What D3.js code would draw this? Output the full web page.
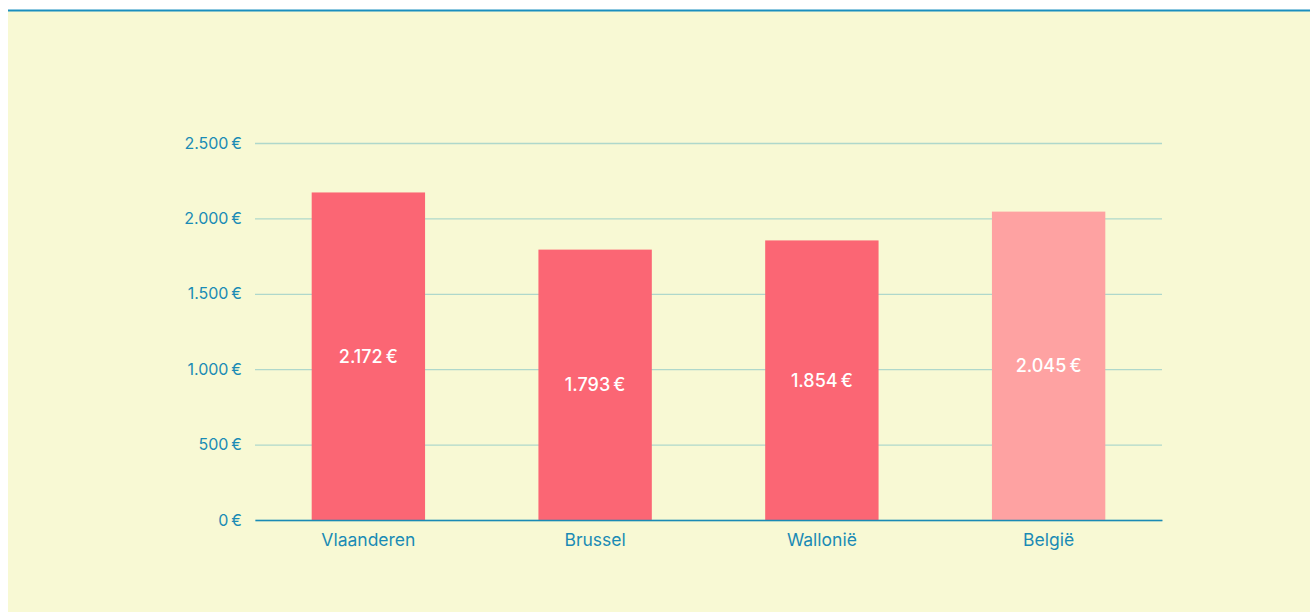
<!DOCTYPE html>
<html>
<head>
<meta charset="utf-8">
<script src="https://cdn.jsdelivr.net/npm/d3@7"></script>
<style>
  body { margin: 0; background: #fff; }
  svg { display: block; }
  svg text { font-family: Inter, "Open Sans", sans-serif; }
</style>
</head>
<body>
<svg id="chart" width="1310" height="612"></svg>
<script>
// data
var regions = ["Vlaanderen", "Brussel", "Wallonië", "België"];
var amounts = [2172, 1793, 1854, 2045];
var barColors = ["#fb6674", "#fb6674", "#fb6674", "#fea2a2"];
var yTicks = [0, 500, 1000, 1500, 2000, 2500];

var svg = d3.select("#chart");

// background panel + top rule
svg.append("rect").attr("x", 8).attr("y", 10).attr("width", 1302).attr("height", 602).attr("fill", "#f8f9d4");
svg.append("line").attr("x1", 8).attr("x2", 1310).attr("y1", 10.5).attr("y2", 10.5)
  .attr("stroke", "#1a8fbf").attr("stroke-width", 2);

var margin = { top: 143, left: 255, right: 148, bottom: 92 },
  width = 1310 - margin.left - margin.right,
  height = 612 - margin.top - margin.bottom;

var locale = d3.formatLocale({ decimal: ",", thousands: ".", grouping: [3], currency: ["", "\u2009€"] });
var fmt = locale.format("$,.0f");

var x = d3.scaleBand().domain(regions).range([0, width]).paddingInner(0.5).paddingOuter(0.25);
var y = d3.scaleLinear().domain([0, 2500]).range([height, 0]);

var g = svg.append("g").attr("transform", "translate(" + margin.left + "," + margin.top + ")");

// gridlines and y labels
var yAxis = g.append("g")
  .call(d3.axisLeft(y).tickValues(yTicks).tickFormat(fmt).tickSize(-width).tickPadding(13));
yAxis.select(".domain").remove();
yAxis.selectAll(".tick line").attr("stroke", "#afd8cb").attr("stroke-width", 1.3);
yAxis.selectAll(".tick text").attr("fill", "#1a8bb5").style("font-size", "16px");

// bars
g.selectAll(".bar")
  .data(amounts)
  .enter().append("rect")
  .attr("x", function (d, i) { return x(regions[i]); })
  .attr("y", function (d) { return y(d); })
  .attr("width", x.bandwidth())
  .attr("height", function (d) { return height - y(d); })
  .attr("fill", function (d, i) { return barColors[i]; });

// value labels
g.selectAll(".val")
  .data(amounts)
  .enter().append("text")
  .attr("x", function (d, i) { return x(regions[i]) + x.bandwidth() / 2; })
  .attr("y", function (d) { return (y(d) + height) / 2; })
  .attr("dy", "0.35em")
  .attr("text-anchor", "middle")
  .attr("fill", "#fff")
  .style("font-size", "18px")
  .style("font-weight", 500)
  .text(function (d) { return fmt(d); });

// x axis
var xAxis = g.append("g")
  .attr("transform", "translate(0," + height + ")")
  .call(d3.axisBottom(x).tickSize(0).tickPadding(14));
xAxis.select(".domain").attr("stroke", "#1a8bb5").attr("stroke-width", 1.5);
xAxis.selectAll(".tick text").attr("fill", "#1a8bb5").style("font-size", "17.5px");
</script>
</body>
</html>
